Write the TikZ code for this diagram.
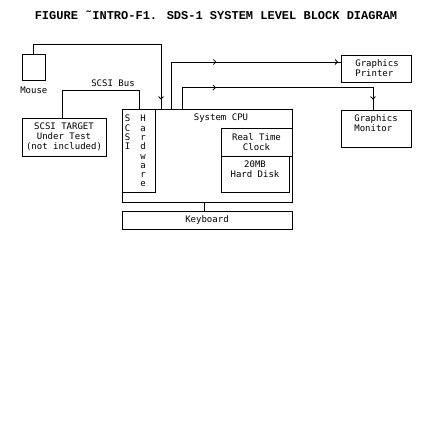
\documentclass[tikz,border=0pt]{standalone}
\usepackage{fontspec}
\newfontfamily\dotfont{DejaVu Sans Mono}
\newfontfamily\titlefont{Liberation Mono}
\usetikzlibrary{arrows.meta,decorations.markings}
\begin{document}
\begin{tikzpicture}[x=1pt,y=-1pt,line width=0.8pt,
  box/.style={draw,inner sep=0pt},
  txt/.style={font=\dotfont\fontsize{9}{10}\selectfont,align=center,inner sep=0pt},
  mk/.style={postaction={decorate,decoration={markings,
    mark=at position #1 with {\arrow{Straight Barb[length=2.5pt,width=5pt]}}}}}]
\useasboundingbox (0,0) rectangle (432,440);
% title
\node[font=\titlefont\fontsize{12}{14}\selectfont\bfseries,inner sep=0pt] (title) at (216,15)
  {FIGURE \symbol{"02DC}INTRO-F1. SDS-1 SYSTEM LEVEL BLOCK DIAGRAM};
% boxes
\node[box,minimum width=23.5,minimum height=26.7] (mouse) at (33.8,67.4) {};
\node[txt] (mouselab) at (33.8,90) {Mouse};
\node[box,txt,minimum width=84,minimum height=38] (target) at (64,137)
  {SCSI TARGET\\Under Test\\(not included)};
\node[box,minimum width=170,minimum height=93] (cpu) at (207,155.5) {};
\node[box,minimum width=33.5,minimum height=83] (hw) at (138.8,150.5) {};
\node[box,txt,minimum width=71,minimum height=28] (rtc) at (256.5,142) {Real Time\\Clock};
\node[box,minimum width=68,minimum height=36] (disk) at (255,174) {};
\node[txt,anchor=north] (disklab) at (255,160) {20MB\\Hard Disk};
\node[box,txt,minimum width=170,minimum height=18] (kbd) at (207,220) {Keyboard};
\node[box,minimum width=70,minimum height=27] (printer) at (376.5,68.5) {};
\node[txt,align=left,anchor=west] (printlab) at (355,68) {Graphics\\Printer};
\node[box,minimum width=70,minimum height=37] (monitor) at (376,128.5) {};
\node[txt,align=left,anchor=west] (monlab) at (354,123) {Graphics\\Monitor};
% labels
\node[txt] (cpulab) at (221,118) {System CPU};
\node[txt] (buslab) at (113,83) {SCSI Bus};
\foreach \l [count=\i] in {S,C,S,I}
  \node[txt,anchor=base] (scsi\i) at (127.5,112.5+9.3*\i) {\l};
\foreach \l [count=\i] in {H,a,r,d,w,a,r,e}
  \node[txt,anchor=base] (hwl\i) at (143,112.5+9.3*\i) {\l};
% connectors
\coordinate (mousein) at (cpu.north -| 161,0);
\coordinate (busin) at (cpu.north -| 139,0);
\coordinate (prout) at (cpu.north -| 171,0);
\coordinate (monout) at (cpu.north -| 182,0);
\draw[mk=-9pt] (mouse.north) -- ++(0,-9) -| (mousein);
\draw ([xshift=-2]target.north) -- ++(0,-27) -| (busin);
\draw[mk=92pt,mk=-3pt] (prout) |- (printer.west |- 0,62);
\draw[mk=55pt,mk=-10pt] (monout) -- ++(0,-21) -| (monitor.north -| 373,0);
\draw ([xshift=-3]cpu.south) -- ([xshift=-3]kbd.north);
\end{tikzpicture}
\end{document}
